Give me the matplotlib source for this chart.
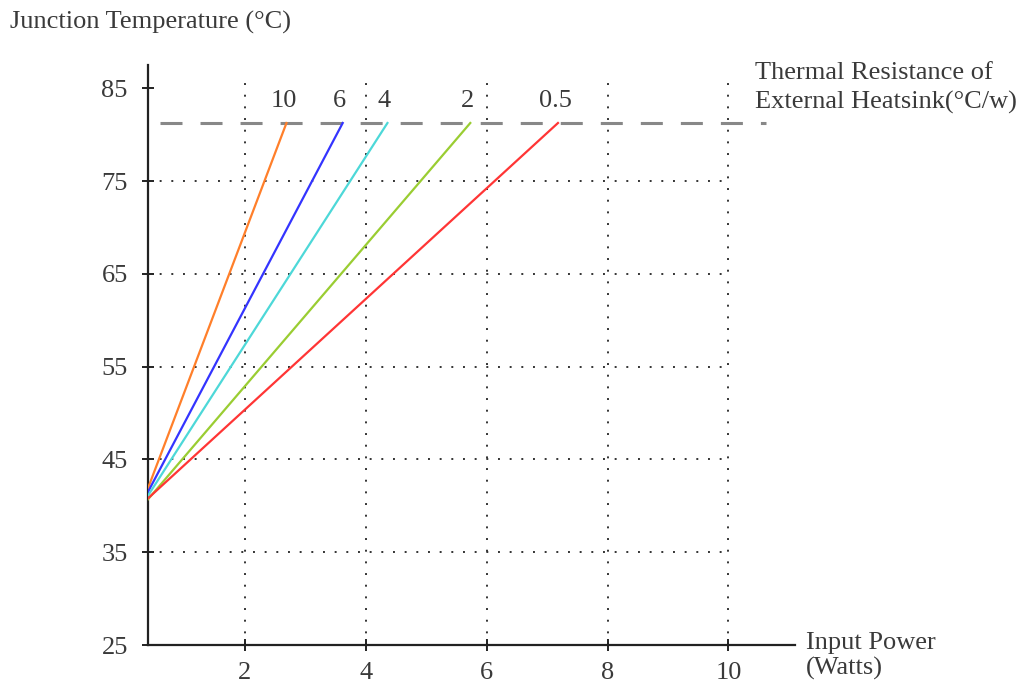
import matplotlib.pyplot as plt

# thermal resistance of heatsink (degC/W) and line end points
resistances = ['10', '6', '4', '2', '0.5']
colors = ['#ff7f2a', '#3434ff', '#4dd8d8', '#9acd32', '#ff3535']
power_start = [0.4, 0.4, 0.4, 0.4, 0.4]
temp_start = [41.9, 41.5, 41.1, 40.7, 40.8]
power_end = [2.69, 3.62, 4.36, 5.73, 7.18]
temp_end = [81.25, 81.25, 81.25, 81.25, 81.25]

TJ_MAX = 81.25
x_ticks = [2, 4, 6, 8, 10]
y_ticks = [25, 35, 45, 55, 65, 75, 85]
y_grid = [35, 45, 55, 65, 75]

plt.rcParams['font.family'] = ['Liberation Serif', 'DejaVu Serif']
txt = '#3a3a3a'
FS = 19

fig = plt.figure(figsize=(10.21, 6.85), dpi=100)
ax = fig.add_axes([148 / 1021, 40 / 685, (795 - 148) / 1021, (645 - 65) / 685])
ax.set_xlim(0.4, 11.1)
ax.set_ylim(25, 87.5)

# dotted grid
ax.vlines(x_ticks, 25, 86.5, colors='#333333', linestyles=(0, (1, 5)), linewidth=1.4, zorder=1)
ax.hlines(y_grid, 0.4, 10, colors='#333333', linestyles=(0, (1, 5)), linewidth=1.4, zorder=1)

# max junction temperature line
ax.plot([0.6, 10.62], [TJ_MAX, TJ_MAX], color='#888888', linewidth=2.2,
        dashes=(7.2, 5.9), zorder=2)

for r, c, x0, y0, x1, y1 in zip(resistances, colors, power_start, temp_start, power_end, temp_end):
    ax.plot([x0, x1], [y0, y1], color=c, linewidth=1.6, zorder=3)
    ax.text(x1 - 0.05, 83.6, r, ha='center', va='center', fontsize=FS, color=txt)

ax.spines['top'].set_visible(False)
ax.spines['right'].set_visible(False)
for s in ['left', 'bottom']:
    ax.spines[s].set_linewidth(1.6)
    ax.spines[s].set_color('#222222')

ax.set_xticks(x_ticks)
ax.set_yticks(y_ticks)
ax.tick_params(direction='inout', length=9, width=1.4, color='#222222',
               labelsize=FS, labelcolor=txt)
ax.tick_params(axis='y', pad=10)
ax.tick_params(axis='x', pad=8)

fig.text(10 / 1021, 1 - 22 / 685, 'Junction Temperature (°C)', ha='left', va='center',
         fontsize=FS, color=txt)
fig.text(755 / 1021, 1 - 88 / 685, 'Thermal Resistance of\nExternal Heatsink(°C/w)',
         ha='left', va='center', fontsize=FS, color=txt, linespacing=1.35)
fig.text(806 / 1021, 1 - 656 / 685, 'Input Power\n(Watts)', ha='left', va='center',
         fontsize=FS, color=txt, linespacing=1.12)

fig.savefig('out.png', dpi=100)
